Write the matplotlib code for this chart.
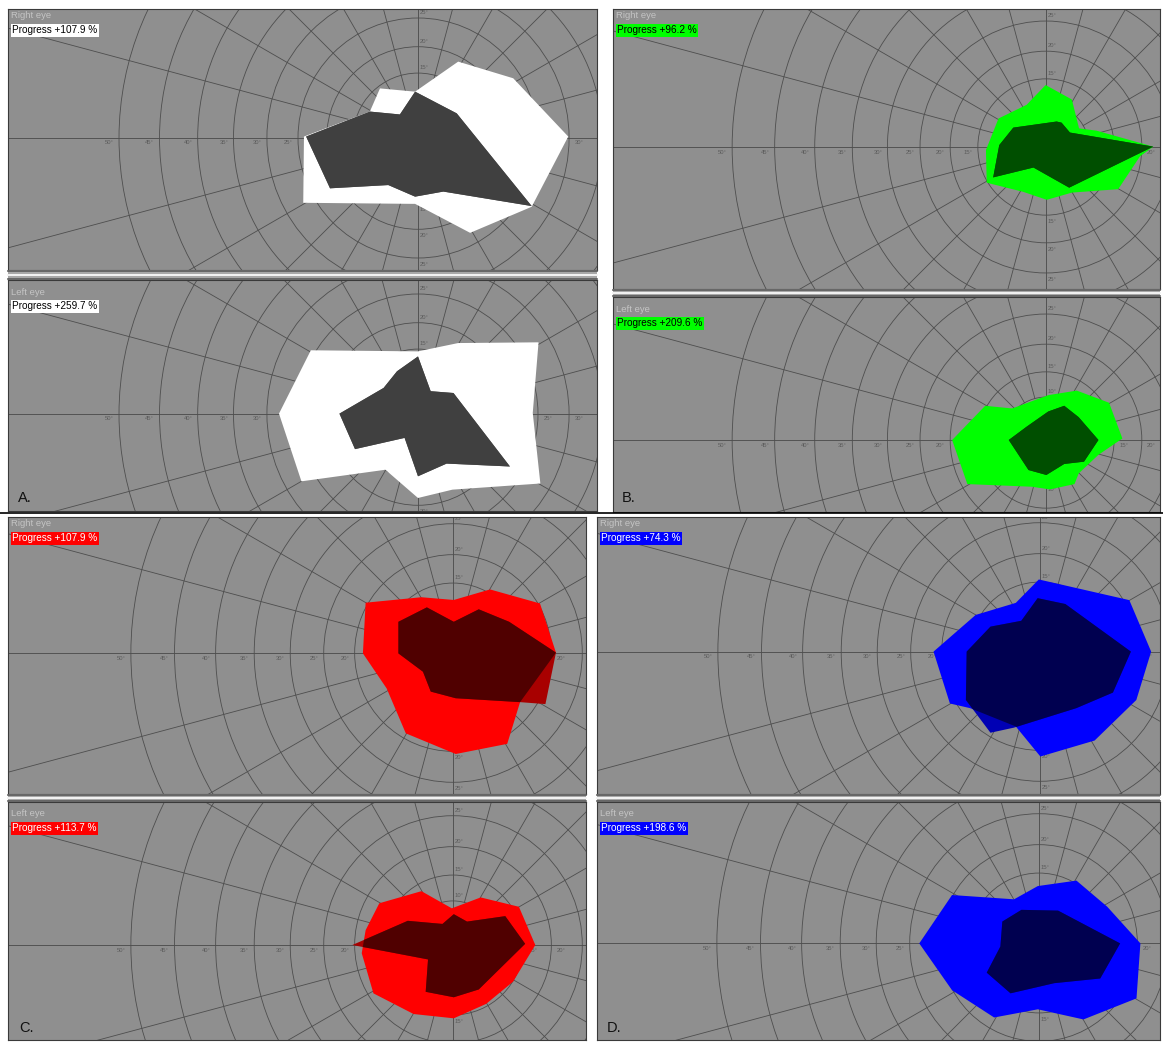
import numpy as np
import matplotlib.pyplot as plt
from matplotlib.patches import Polygon, Circle, Rectangle
from matplotlib.lines import Line2D
from matplotlib.transforms import offset_copy

plt.rcParams['font.family'] = ['Liberation Sans', 'DejaVu Sans']

W, H = 1163, 1045

# isopters in chart coordinates (projected degrees), x = temporal/nasal, y = up/down
a_right_outer = [(-31.5, 0.4), (-13.3, 7.3), (-10.5, 13.7), (-0.8, 12.8), (11.1, 21.1), (26.3, 16.5),
                 (41.5, 0.4), (31.4, -19.0), (14.4, -26.2), (-0.8, -18.2), (-31.7, -17.9)]
a_right_inner = [(-30.9, 0.4), (-13.3, 7.3), (-5.0, 6.5), (-0.8, 12.8), (10.7, 6.8), (31.4, -18.8),
                 (7.0, -14.8), (-0.8, -16.2), (-8.2, -13.0), (-24.3, -13.9)]
a_left_outer = [(-29.6, 17.6), (0.0, 17.3), (11.1, 19.6), (33.3, 19.8), (31.7, 0.3), (33.8, -19.2),
                (9.5, -20.9), (0.0, -23.2), (-9.0, -15.4), (-32.2, -18.6), (-38.4, 0.1)]
a_left_inner = [(-21.7, 0.1), (-9.5, 7.2), (-5.8, 11.8), (0.0, 15.9), (3.5, 6.3), (9.8, 5.8),
                (25.4, -14.5), (7.9, -13.7), (0.0, -17.2), (-3.7, -6.6), (-17.4, -9.7)]

b_right_outer = [(-0.1, 16.3), (6.8, 12.5), (8.7, 4.9), (13.3, 4.3), (28.2, 0.1), (24.7, -2.5),
                 (19.0, -11.1), (6.8, -12.0), (0.2, -13.9), (-6.0, -11.8), (-15.6, -9.4),
                 (-15.8, -0.8), (-12.5, 7.5), (-5.1, 11.1)]
b_right_inner = [(-8.6, 5.1), (2.8, 6.7), (4.1, 6.4), (6.3, 3.8), (28.2, 0.1), (6.1, -10.7),
                 (-3.3, -5.4), (-13.9, -8.0), (-12.3, 0.5)]
b_left_outer = [(8.1, 13.0), (16.6, 9.8), (20.1, 0.4), (13.8, -3.9), (8.6, -8.8), (7.5, -11.6),
                (1.0, -13.0), (-3.7, -12.3), (-20.7, -11.6), (-24.7, 0.0), (-16.0, 9.0),
                (-8.9, 8.3), (0.6, 11.8)]
b_left_inner = [(4.8, 9.0), (8.6, 6.0), (13.8, 0.0), (10.0, -5.7), (4.8, -6.3), (0.1, -9.2),
                (-4.6, -7.9), (-9.8, 0.0), (-5.1, 3.5), (0.6, 7.5)]

c_right_outer = [(-22.4, 12.9), (-8.1, 14.3), (0.2, 13.6), (9.5, 16.3), (22.3, 12.7), (26.4, 0.1),
                 (17.2, -12.6), (13.9, -23.3), (0.7, -25.9), (-12.1, -20.6), (-17.0, -9.1),
                 (-23.1, -0.1)]
c_right_inner = [(-14.0, 8.0), (-6.7, 11.7), (0.2, 8.0), (6.6, 11.2), (14.4, 8.0), (26.4, 0.1),
                 (23.7, -13.1), (17.2, -12.6), (0.7, -11.6), (-5.7, -9.9), (-7.7, -4.8),
                 (-14.0, -0.1)]
c_left_outer = [(-18.9, 10.7), (-8.1, 13.8), (-0.3, 9.4), (7.1, 12.2), (16.9, 9.8), (21.1, 0.0),
                (15.4, -9.4), (8.5, -15.1), (0.2, -18.8), (-10.1, -17.7), (-20.4, -12.4),
                (-23.4, -2.1), (-22.4, 3.8)]
c_left_inner = [(-25.8, 0.0), (-11.6, 6.2), (-2.7, 5.4), (0.2, 7.9), (3.6, 6.0), (13.4, 7.4),
                (18.5, 0.3), (6.6, -11.4), (0.2, -13.4), (-7.0, -12.0), (-6.4, -3.7)]

d_right_outer = [(-0.3, 18.6), (22.9, 13.3), (28.5, 0.1), (24.7, -12.3), (14.0, -22.7), (0.1, -26.8),
                 (-6.2, -19.1), (-17.9, -14.4), (-23.1, -13.2), (-27.3, 0.1), (-16.5, 9.5),
                 (-6.2, 12.6)]
d_right_inner = [(-0.6, 13.8), (6.5, 12.3), (23.3, 0.1), (18.7, -10.4), (9.3, -14.4), (-6.7, -19.4),
                 (-12.7, -20.7), (-19.0, -12.3), (-18.8, 0.1), (-12.7, 6.5), (-4.8, 8.0)]
d_left_outer = [(-22.3, 12.3), (-6.4, 11.2), (-0.3, 14.6), (9.6, 16.0), (17.5, 9.3), (26.0, -0.1),
                (25.0, -14.2), (11.4, -19.6), (-0.3, -17.0), (-11.5, -19.1), (-22.3, -12.1),
                (-30.7, -0.1)]
d_left_inner = [(-4.5, 8.5), (4.9, 8.3), (20.8, -0.1), (15.7, -9.1), (3.9, -10.3), (-7.3, -12.9),
                (-13.4, -7.6), (-9.9, -0.9), (-9.4, 5.5)]

progress_right = {'A': '+107.9 %', 'B': '+96.2 %', 'C': '+107.9 %', 'D': '+74.3 %'}
progress_left = {'A': '+259.7 %', 'B': '+209.6 %', 'C': '+113.7 %', 'D': '+198.6 %'}
grid_ecc = [10, 15, 20, 25, 30, 35, 40, 45, 50]
meridians = list(range(0, 360, 15))

# colours per panel: outer fill, inner fill, inner part outside outer, label bg, label text
colors = {
    'A': ('#ffffff', '#404040', '#5a5a5a', '#ffffff', 'black'),
    'B': ('#00ff00', '#004f00', '#006400', '#00ff00', 'black'),
    'C': ('#ff0000', '#500000', '#a80000', '#ff0000', 'white'),
    'D': ('#0000ff', '#000050', '#0000b4', '#0000ff', 'white'),
}

# pixel layout of the screenshot
layout = {
    'A': dict(x=(8, 597), top=(9, 270), bot=(280, 511), ct=(418, 138), cb=(418, 414), s=3.62, letter=(25, 498)),
    'B': dict(x=(613, 1160), top=(9, 289), bot=(297, 512), ct=(1046, 147), cb=(1046, 440), s=3.8, letter=(629, 498)),
    'C': dict(x=(8, 586), top=(517, 794), bot=(802, 1040), ct=(453, 653), cb=(453, 945), s=3.9, letter=(27, 1028)),
    'D': dict(x=(597, 1160), top=(517, 794), bot=(802, 1040), ct=(1040, 652), cb=(1039, 943), s=3.9, letter=(614, 1028)),
}

isopters = {
    ('A', 'R'): (a_right_outer, a_right_inner), ('A', 'L'): (a_left_outer, a_left_inner),
    ('B', 'R'): (b_right_outer, b_right_inner), ('B', 'L'): (b_left_outer, b_left_inner),
    ('C', 'R'): (c_right_outer, c_right_inner), ('C', 'L'): (c_left_outer, c_left_inner),
    ('D', 'R'): (d_right_outer, d_right_inner), ('D', 'L'): (d_left_outer, d_left_inner),
}

BG = '#8f8f8f'
GRID = '#4e4e4e'


def proj(ecc):
    # perimeter chart radial scale (widens with eccentricity)
    return ecc * (1 + ecc / 76.7)


def draw_field(fig, key, eye):
    lay = layout[key]
    x0, x1 = lay['x']
    y0, y1 = lay['top'] if eye == 'R' else lay['bot']
    cx, cy = lay['ct'] if eye == 'R' else lay['cb']
    s = lay['s']
    ax = fig.add_axes([x0 / W, 1 - y1 / H, (x1 - x0) / W, (y1 - y0) / H])
    ax.set_facecolor(BG)
    ax.set_xlim((x0 - cx) / s, (x1 - cx) / s)
    ax.set_ylim((cy - y1) / s, (cy - y0) / s)
    ax.set_xticks([])
    ax.set_yticks([])
    for sp in ax.spines.values():
        sp.set_color('#3a3a3a')
        sp.set_linewidth(0.8)

    # grid
    for e in grid_ecc:
        ax.add_patch(Circle((0, 0), proj(e), fill=False, ec=GRID, lw=0.6, zorder=1))
    r0, r1 = proj(10), 300
    for m in meridians:
        if m % 90 == 0:
            continue
        t = np.radians(m)
        ax.plot([r0 * np.cos(t), r1 * np.cos(t)], [r0 * np.sin(t), r1 * np.sin(t)],
                color=GRID, lw=0.6, zorder=1)
    ax.axhline(0, color=GRID, lw=0.65, zorder=1)
    ax.axvline(0, color=GRID, lw=0.65, zorder=1)

    # eccentricity labels along the four half-axes (clipped by the frame)
    lab_kw = dict(fontsize=4.2, color='#5c5c5c', ha='center', va='center', clip_on=True, zorder=2)
    for e in grid_ecc:
        r = proj(e)
        lbl = f'{e}°'
        for dx, dy, ox, oy in [(-r, 0, -7, -3.6), (r, 0, 7, -3.6), (0, r, 4.5, 4), (0, -r, 4.5, -4.5)]:
            ax.text(dx, dy, lbl,
                    transform=offset_copy(ax.transData, fig=fig, x=ox, y=oy, units='points'),
                    **lab_kw)

    # isopters
    c_out, c_in, c_beyond, c_lab, c_txt = colors[key]
    outer, inner = isopters[(key, eye)]
    p_out = Polygon(outer, closed=True, fc=c_out, ec='none', zorder=3)
    ax.add_patch(p_out)
    ax.add_patch(Polygon(inner, closed=True, fc=c_beyond, ec='none', zorder=4))
    p_in = Polygon(inner, closed=True, fc=c_in, ec='none', zorder=5)
    ax.add_patch(p_in)
    p_in.set_clip_path(p_out)

    # header texts
    top_off = 7 if eye == 'R' else 12
    fig.text((x0 + 3) / W, 1 - (y0 + top_off) / H, 'Right eye' if eye == 'R' else 'Left eye',
             fontsize=6.8, color='#c4c4c4', ha='left', va='center')
    prog = progress_right[key] if eye == 'R' else progress_left[key]
    fig.text((x0 + 4) / W, 1 - (y0 + top_off + 14) / H, 'Progress ' + prog,
             fontsize=7.2, color=c_txt, ha='left', va='center',
             bbox=dict(boxstyle='square,pad=0.15', fc=c_lab, ec='none'))
    return ax


def draw_separator(fig, x0, x1, y0, y1):
    fig.add_artist(Rectangle((x0 / W, 1 - y1 / H), (x1 - x0) / W, (y1 - y0) / H,
                             transform=fig.transFigure, fc='#a8a8a8', ec='none'))
    for yy, col, lw in [(y0 + 1, '#5a5a5a', 1.2), ((y0 + y1) / 2, '#f4f4f4', 1.4), (y1 - 1, '#5a5a5a', 1.2)]:
        fig.add_artist(Line2D([x0 / W, x1 / W], [1 - yy / H] * 2, transform=fig.transFigure,
                              color=col, lw=lw))


fig = plt.figure(figsize=(W / 100, H / 100), dpi=100)
fig.patch.set_facecolor('white')

for key in ['A', 'B', 'C', 'D']:
    lay = layout[key]
    draw_field(fig, key, 'R')
    draw_field(fig, key, 'L')
    draw_separator(fig, lay['x'][0], lay['x'][1], lay['top'][1], lay['bot'][0])
    lx, ly = lay['letter']
    fig.text(lx / W, 1 - ly / H, key + '.', fontsize=10.5, color='#111111', ha='center', va='center')

# black rule between the upper and lower rows
fig.add_artist(Line2D([0, 1], [1 - 513.5 / H] * 2, transform=fig.transFigure, color='black', lw=1.2))

fig.savefig('out.png', dpi=100, facecolor='white')
